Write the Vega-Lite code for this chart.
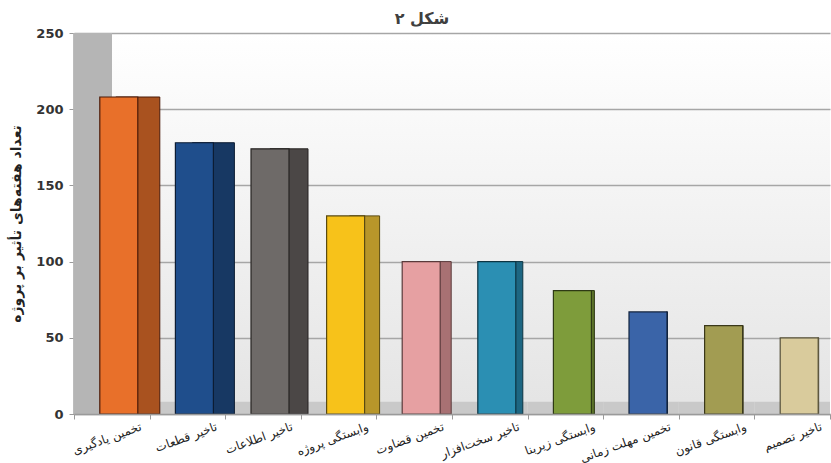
{
  "$schema": "https://vega.github.io/schema/vega-lite/v6.json",
  "width": 756,
  "height": 381,
  "autosize": "none",
  "padding": {"left": 74, "top": 33, "right": 1, "bottom": 49},
  "background": "white",
  "title": {"text": "شکل ۲", "font": "DejaVu Sans", "fontSize": 16, "fontWeight": "bold", "color": "#404040", "offset": 0, "dx": -30},
  "config": {
    "view": {"stroke": null, "fill": {"gradient": "linear", "x1": 0, "y1": 0, "x2": 0, "y2": 1, "stops": [{"offset": 0, "color": "#ffffff"}, {"offset": 1, "color": "#e4e4e4"}]}},
    "axis": {"labelFont": "DejaVu Sans", "titleFont": "DejaVu Sans"}
  },
  "data": {"values": [
    {"factor": "تخمین یادگیری", "weeks": 208},
    {"factor": "تاخیر قطعات", "weeks": 178},
    {"factor": "تاخیر اطلاعات", "weeks": 174},
    {"factor": "وابستگی پروژه", "weeks": 130},
    {"factor": "تخمین قضاوت", "weeks": 100},
    {"factor": "تاخیر سخت‌افزار", "weeks": 100},
    {"factor": "وابستگی زیربنا", "weeks": 81},
    {"factor": "تخمین مهلت زمانی", "weeks": 67},
    {"factor": "وابستگی قانون", "weeks": 58},
    {"factor": "تاخیر تصمیم", "weeks": 50}
  ]},
  "encoding": {
    "x": {"field": "factor", "type": "nominal", "sort": null,
      "scale": {"paddingInner": 0, "paddingOuter": 0},
      "axis": {"title": null, "labelAngle": -20, "labelAlign": "right", "labelBaseline": "top", "labelOffset": 27, "labelPadding": 2,
        "labelFontSize": 12, "labelColor": "#222222", "tickBand": "extent", "tickSize": 5, "tickColor": "#9a9a9a", "domainColor": "#9a9a9a", "domainWidth": 1.5}},
    "y": {"field": "weeks", "type": "quantitative",
      "scale": {"domain": [0, 250], "nice": false},
      "axis": {"title": "تعداد هفته‌های تأثیر بر پروژه", "titleFontSize": 14, "titleFontWeight": "bold", "titleColor": "#222222", "titlePadding": 12,
        "values": [0, 50, 100, 150, 200, 250], "labelFontSize": 13, "labelFontWeight": "bold", "labelColor": "#333333", "labelPadding": 6,
        "domain": false, "tickSize": 5, "tickColor": "#9a9a9a", "grid": true, "gridColor": "#a6a6a6", "gridWidth": 1.3}}
  },
  "resolve": {"scale": {"fill": "independent", "stroke": "independent"}},
  "layer": [
    {
      "mark": {"type": "rect", "color": "#c9c9c9"},
      "encoding": {
        "y": {"datum": 8, "type": "quantitative"},
        "y2": {"datum": 0}
      }
    },
    {
      "mark": {"type": "bar", "width": 38, "xOffset": -19, "color": "#b5b5b5"},
      "encoding": {
        "x": {"datum": "تخمین یادگیری", "type": "nominal"},
        "y": {"datum": 250, "type": "quantitative"},
        "y2": {"datum": 0}
      }
    },
    {
      "mark": {"type": "bar", "xOffset": 26, "strokeWidth": 1},
      "encoding": {
        "size": {"field": "factor", "type": "nominal", "legend": null,
          "scale": {"type": "ordinal", "domain": ["تخمین یادگیری", "تاخیر قطعات", "تاخیر اطلاعات", "وابستگی پروژه", "تخمین قضاوت", "تاخیر سخت‌افزار", "وابستگی زیربنا", "تخمین مهلت زمانی", "وابستگی قانون", "تاخیر تصمیم"],
            "range": [44, 42, 38, 30, 22, 14, 6, 1, 1, 1]}},
        "fill": {"field": "factor", "type": "nominal", "legend": null,
          "scale": {"domain": ["تخمین یادگیری", "تاخیر قطعات", "تاخیر اطلاعات", "وابستگی پروژه", "تخمین قضاوت", "تاخیر سخت‌افزار", "وابستگی زیربنا", "تخمین مهلت زمانی", "وابستگی قانون", "تاخیر تصمیم"],
            "range": ["#a9521f", "#173863", "#4b4746", "#b8962a", "#a87173", "#1d6682", "#5b722a", "#26467a", "#746f35", "#a59a70"]}},
        "stroke": {"field": "factor", "type": "nominal", "legend": null,
          "scale": {"domain": ["تخمین یادگیری", "تاخیر قطعات", "تاخیر اطلاعات", "وابستگی پروژه", "تخمین قضاوت", "تاخیر سخت‌افزار", "وابستگی زیربنا", "تخمین مهلت زمانی", "وابستگی قانون", "تاخیر تصمیم"],
            "range": ["#4a1a08", "#0c1c33", "#262322", "#5a4a10", "#5a3a3b", "#0c3442", "#2e3a14", "#12233e", "#3a381a", "#55503a"]}}
      }
    },
    {
      "mark": {"type": "bar", "width": 38, "xOffset": 7, "strokeWidth": 1.2},
      "encoding": {
        "fill": {"field": "factor", "type": "nominal", "legend": null,
          "scale": {"domain": ["تخمین یادگیری", "تاخیر قطعات", "تاخیر اطلاعات", "وابستگی پروژه", "تخمین قضاوت", "تاخیر سخت‌افزار", "وابستگی زیربنا", "تخمین مهلت زمانی", "وابستگی قانون", "تاخیر تصمیم"],
            "range": ["#e8702a", "#1f4e8c", "#6e6a68", "#f7c21a", "#e6a0a2", "#2b8fb3", "#7e9c3b", "#3a64a8", "#a29c52", "#d9cb9c"]}},
        "stroke": {"field": "factor", "type": "nominal", "legend": null,
          "scale": {"domain": ["تخمین یادگیری", "تاخیر قطعات", "تاخیر اطلاعات", "وابستگی پروژه", "تخمین قضاوت", "تاخیر سخت‌افزار", "وابستگی زیربنا", "تخمین مهلت زمانی", "وابستگی قانون", "تاخیر تصمیم"],
            "range": ["#4a1a08", "#0c1c33", "#262322", "#5a4a10", "#5a3a3b", "#0c3442", "#2e3a14", "#12233e", "#3a381a", "#55503a"]}}
      }
    }
  ]
}
